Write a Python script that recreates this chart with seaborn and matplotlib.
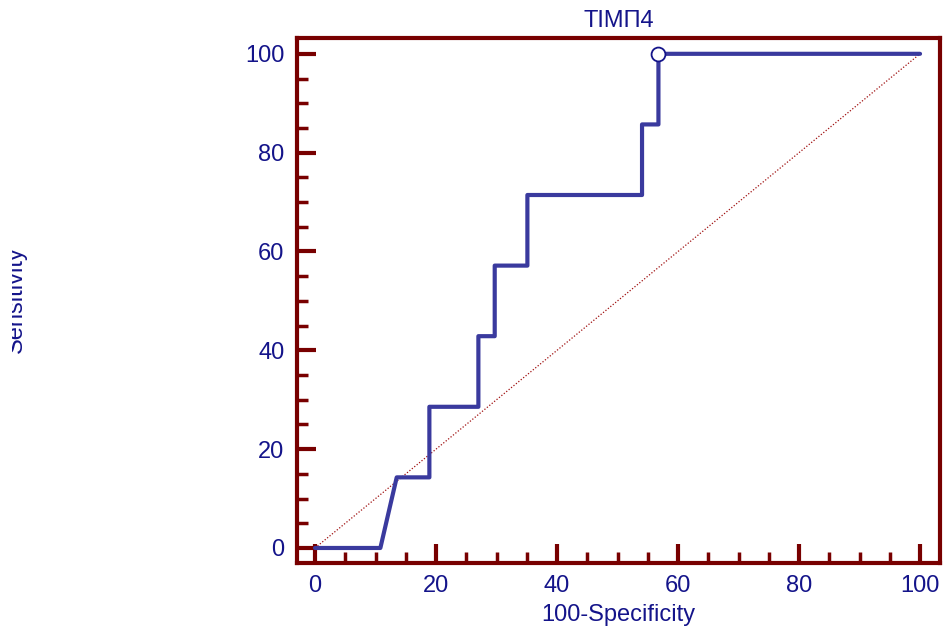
import matplotlib
matplotlib.use("Agg")
import matplotlib.pyplot as plt
import seaborn as sns
import pandas as pd
from matplotlib.ticker import MultipleLocator
from matplotlib.transforms import Bbox, TransformedBbox

# ROC curve points (100-Specificity, Sensitivity)
fpr = [0, 10.8, 13.5, 18.9, 18.9, 27.0, 27.0, 29.7, 29.7, 35.1, 35.1,
       54.05, 54.05, 56.76, 56.76, 100]
sens = [0, 0, 14.29, 14.29, 28.57, 28.57, 42.86, 42.86, 57.14, 57.14,
        71.43, 71.43, 85.71, 85.71, 100, 100]
diag = [0, 100]
cut_x = [56.76]
cut_y = [100]

title = "ТІМП4"
navy = "#14148a"
curve_col = "#3a3a9e"
maroon = "#780000"
fs = 17

sns.set_style("white")
plt.rcParams["font.family"] = ["Liberation Sans", "DejaVu Sans"]

fig = plt.figure(figsize=(9.47, 6.30), dpi=100)
ax = fig.add_axes([297 / 947, 1 - 563 / 630, (940 - 297) / 947, (563 - 38) / 630])

roc = pd.DataFrame({"fpr": fpr, "sens": sens})
ref = pd.DataFrame({"x": diag, "y": diag})

sns.lineplot(data=ref, x="x", y="y", ax=ax, color="#a01010", lw=0.9,
             linestyle=(0, (1, 1.5)), sort=False, estimator=None)
sns.lineplot(data=roc, x="fpr", y="sens", ax=ax, color=curve_col, lw=3,
             sort=False, estimator=None)
ax.plot(cut_x, cut_y, marker="o", ms=10, mfc="white", mec=navy, mew=1.3,
        ls="none", zorder=5, clip_on=False)

ax.set_xlim(-2.98, 103.3)
ax.set_ylim(-3.04, 103.2)
ax.xaxis.set_major_locator(MultipleLocator(20))
ax.xaxis.set_minor_locator(MultipleLocator(5))
ax.yaxis.set_major_locator(MultipleLocator(20))
ax.yaxis.set_minor_locator(MultipleLocator(5))

for s in ax.spines.values():
    s.set_color(maroon)
    s.set_linewidth(3)
    s.set_visible(True)

ax.tick_params(which="major", direction="in", length=14, width=3,
               color=maroon, labelsize=fs, labelcolor=navy, pad=9)
ax.tick_params(which="minor", direction="in", length=8, width=2.5,
               color=maroon)
ax.tick_params(top=False, right=False, which="both")
ax.tick_params(axis="x", which="both", bottom=True)
ax.tick_params(axis="y", which="both", left=True)

ax.set_xlabel("100-Specificity", fontsize=fs, color=navy, labelpad=5)
ax.set_ylabel("")
ax.set_title(title, fontsize=fs, color=navy, pad=8)

t = fig.text(27 / 947, 1 - 300 / 630, "Sensitivity", rotation=90,
             ha="right", va="center", fontsize=fs, color=navy)
t.set_clip_box(TransformedBbox(Bbox([[12 / 947, 0], [1, 1]]), fig.transFigure))
t.set_clip_on(True)

fig.savefig("out.png", dpi=100)
